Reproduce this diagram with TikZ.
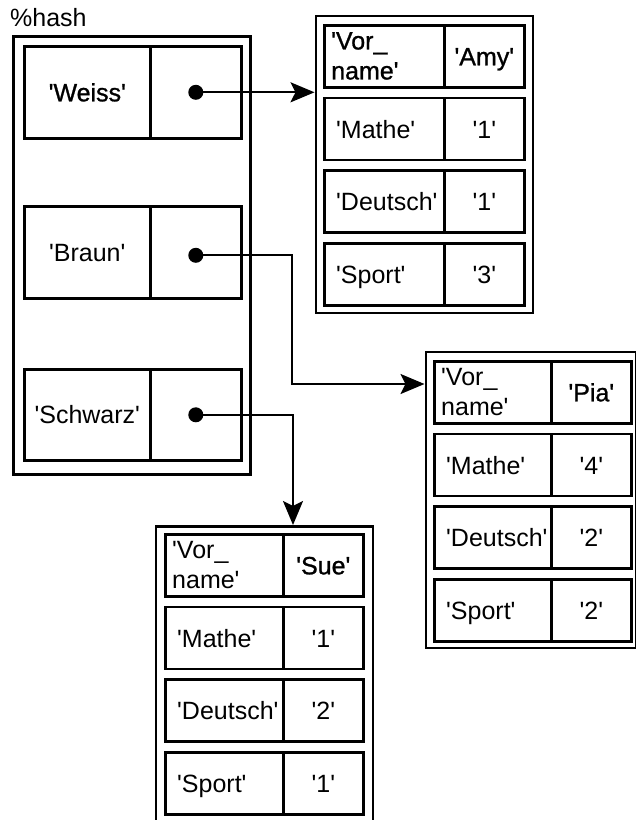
\documentclass[tikz,border=0pt]{standalone}
\usepackage{fontspec}
\setmainfont{Liberation Sans}
\newfontfamily\labfont{Liberation Sans}
\newfontfamily\heavyfont[FakeBold=1]{Liberation Sans}
\usetikzlibrary{arrows.meta}

% text between straight single quotes
\newcommand\qt[1]{\textquotesingle#1\textquotesingle}

% one record: #1 name prefix, #2 left of the cells, #3 top of the first row,
% #4 key column width, #5 first name, #6-#8 grades, #9 style of the 'Vor_name' key
\newcommand\gradetable[9]{%
  \node[cell, minimum width=#4] (#1k0) at (#2,#3) {};
  \node[cell, minimum width=80] (#1v0) at ({#2+#4},#3) {};
  \node[cell, minimum width=#4] (#1k1) at (#2,{#3+72.7}) {};
  \node[cell, minimum width=80] (#1v1) at ({#2+#4},{#3+72.7}) {};
  \node[cell, minimum width=#4] (#1k2) at (#2,{#3+145.4}) {};
  \node[cell, minimum width=80] (#1v2) at ({#2+#4},{#3+145.4}) {};
  \node[cell, minimum width=#4] (#1k3) at (#2,{#3+218.1}) {};
  \node[cell, minimum width=80] (#1v3) at ({#2+#4},{#3+218.1}) {};
  \node[labtwo, anchor=north west, #9] (#1k0t) at ([xshift=8pt,yshift=-8pt]#1k0.north west)
       {\textquotesingle Vor\_\\name\textquotesingle};
  \node[lab, heavy] (#1v0t) at (#1v0.center) {\qt{#5}};
  \node[lab, anchor=west] (#1k1t) at ([xshift=13pt]#1k1.west) {\qt{Mathe}};
  \node[lab] (#1v1t) at (#1v1.center) {\qt{#6}};
  \node[lab, anchor=west] (#1k2t) at ([xshift=13pt]#1k2.west) {\qt{Deutsch}};
  \node[lab] (#1v2t) at (#1v2.center) {\qt{#7}};
  \node[lab, anchor=west] (#1k3t) at ([xshift=13pt]#1k3.west) {\qt{Sport}};
  \node[lab] (#1v3t) at (#1v3.center) {\qt{#8}};
}

\begin{document}
\begin{tikzpicture}[x=1pt, y=-1pt,
  lab/.style={font=\labfont\fontsize{25}{30}\selectfont, inner sep=0pt,
              text height=18pt, text depth=0pt},
  labtwo/.style={font=\labfont\fontsize{25}{30}\selectfont, inner sep=0pt, align=left},
  heavy/.style={font=\heavyfont\fontsize{25}{30}\selectfont},
  plain/.style={},
  cell/.style={draw, line width=2.6pt, inner sep=0pt, anchor=north west,
               minimum height=62},
  hcell/.style={draw, line width=2.6pt, inner sep=0pt, anchor=north west},
  frame/.style={draw, line width=2.8pt, inner sep=0pt, anchor=north west},
  dot/.style={circle, fill=black, inner sep=0pt, minimum size=15pt},
  link/.style={line width=2.2pt, -{Stealth[length=24pt, width=20pt, inset=5pt]}}]

\useasboundingbox (0,0) rectangle (636,820);
\clip (0,0) rectangle (636,820);

% the hash and its three entries
\node[anchor=base west, font=\labfont\fontsize{25}{30}\selectfont, inner sep=0pt]
  (hashname) at (10,26) {\%hash};
\node[frame, minimum width=237, minimum height=438] (hash) at (12,35) {};

\node[hcell, minimum width=126, minimum height=92] (wK) at (23,45) {};
\node[hcell, minimum width=91, minimum height=92] (wV) at (149,45) {};
\node[hcell, minimum width=126, minimum height=92] (bK) at (23,205) {};
\node[hcell, minimum width=91, minimum height=92] (bV) at (149,205) {};
\node[hcell, minimum width=126, minimum height=91] (sK) at (23,368) {};
\node[hcell, minimum width=91, minimum height=91] (sV) at (149,368) {};

\node[lab, heavy] (wT) at (wK.center) {\qt{Weiss}};
\node[lab] (bT) at (bK.center) {\qt{Braun}};
\node[lab] (sT) at (sK.center) {\qt{Schwarz}};

\node[dot] (wD) at (wV.center) {};
\node[dot] (bD) at ([yshift=-3pt]bV.center) {};
\node[dot] (sD) at (sV.center) {};

% the three records
\node[frame, minimum width=217, minimum height=297] (amy) at (314.5,14.5) {};
\gradetable{a}{323}{24}{120}{Amy}{1}{1}{3}{heavy}

\node[frame, minimum width=210, minimum height=296] (pia) at (424.5,350.5) {};
\gradetable{p}{433}{360}{117}{Pia}{4}{2}{2}{plain}

\node[frame, minimum width=217, minimum height=330] (sue) at (154.5,525) {};
\gradetable{s}{164}{533}{118}{Sue}{1}{2}{1}{plain}

% pointers from the hash values to the records
\coordinate (bBend) at (292,384);
\coordinate (sIn) at (293,0 |- sue.north);
\draw[link] (wD.center) -- (wD.center -| amy.west);
\draw[link] (bD.center) -| (bBend) -- (bBend -| pia.west);
\draw[link] (sD.center) -| (sIn);
\end{tikzpicture}
\end{document}
